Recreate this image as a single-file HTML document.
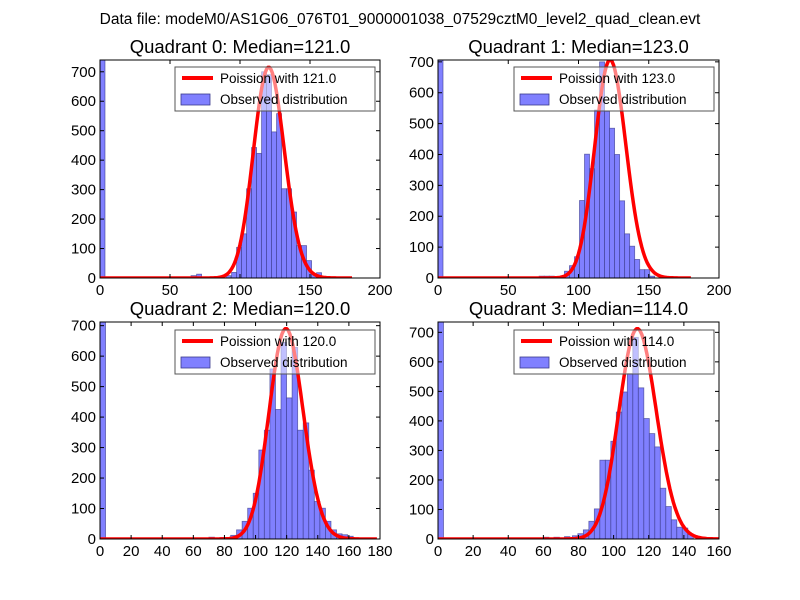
<!DOCTYPE html>
<html><head><meta charset="utf-8"><style>
html,body{margin:0;padding:0;background:#fff;}
svg{display:block;font-family:"Liberation Sans","DejaVu Sans",sans-serif;}
</style></head><body>
<svg id="fig" width="800" height="600" viewBox="0 0 800 600">
<rect x="0" y="0" width="800" height="600" fill="#fff"/>
<text x="400" y="24" font-size="15.5" text-anchor="middle">Data file: modeM0/AS1G06_076T01_9000001038_07529cztM0_level2_quad_clean.evt</text>
</svg>
<script>
// ---- data ----
const titles = ["Quadrant 0: Median=121.0","Quadrant 1: Median=123.0","Quadrant 2: Median=120.0","Quadrant 3: Median=114.0"];
const medians = [121, 123, 120, 114];
const curvePeaks = [715, 706, 690, 712];
const curveMax = [180, 180, 178, 160];
const xMaxes = [200, 200, 180, 160];
const yMaxes = [740, 706, 712, 735];
const xTicks0 = [0,50,100,150,200];
const xTicks2 = [0,20,40,60,80,100,120,140,160,180];
const xTicks3 = [0,20,40,60,80,100,120,140,160];
const yTicks = [0,100,200,300,400,500,600,700];
const binWidths = [3.57, 3.57, 3.57, 3.13];
// zero bin counts
const zeroCounts = [740, 706, 712, 735];
// low tail bins: start values and counts
const q0SmallStarts = [65, 69, 90];
const q0SmallCounts = [8, 13, 8];
const q1SmallStarts = [72, 75.6, 79.2, 82.8];
const q1SmallCounts = [6, 6, 6, 4];
const q2SmallStarts = [70, 77, 84];
const q2SmallCounts = [6, 5, 12];
const q3SmallStarts = [60, 66, 72];
const q3SmallCounts = [6, 6, 8];
// main peak bins
const peakStarts = [94, 90, 87.8, 76.5];
const q0Counts = [19,104,150,303,443,423,700,690,496,558,303,303,224,110,110,59,14,18];
const q1Counts = [22,40,69,251,401,354,544,700,540,485,400,250,143,103,60,27,27,6,0,6];
const q2Counts = [30,58,101,150,292,357,558,425,645,463,629,357,381,226,123,101,58,30,17,14,9];
const q3Counts = [11,18,31,60,102,267,267,331,430,498,560,683,512,408,357,312,172,110,65,40,37,15];
const allCounts = [q0Counts,q1Counts,q2Counts,q3Counts];
const allSmallStarts = [q0SmallStarts,q1SmallStarts,q2SmallStarts,q3SmallStarts];
const allSmallCounts = [q0SmallCounts,q1SmallCounts,q2SmallCounts,q3SmallCounts];
const allXTicks = [xTicks0, xTicks0, xTicks2, xTicks3];

const NS = "http://www.w3.org/2000/svg";
const svg = document.getElementById('fig');
function mk(tag, attrs, parent){ const e=document.createElementNS(NS,tag); for(const k in attrs) e.setAttribute(k,attrs[k]); (parent||svg).appendChild(e); return e; }
const boxes = [[100,60,380,278],[438,60,719,278],[100,322,380,539],[438,322,719,539]];

function lgamma(n){ let s=0; for(let i=2;i<=n;i++) s+=Math.log(i); return s; }

for(let p=0;p<4;p++){
  const [L,T,R,B] = boxes[p];
  const g = mk('g',{});
  
  
  const xs = v => L + v/xMaxes[p]*(R-L);
  const ys = v => B - v/yMaxes[p]*(B-T);
  const clip = mk('clipPath',{id:'c'+p},g);
  mk('rect',{x:L,y:T,width:R-L,height:B-T},clip);
  const plot = mk('g',{'clip-path':'url(#c'+p+')'},g);
  const w = binWidths[p];
  function bar(x0,c){
    const r = mk('rect',{x:xs(x0),y:ys(c),width:xs(x0+w)-xs(x0),height:ys(0)-ys(c),fill:'#8080ff',stroke:'#3a3a8c','stroke-width':0.8,'stroke-opacity':0.7},plot);
    
    
  }
  bar(0, zeroCounts[p]);
  allSmallStarts[p].forEach((s,i)=>bar(s, allSmallCounts[p][i]));
  allCounts[p].forEach((c,i)=>{ if(c>0) bar(peakStarts[p]+i*w, c); });
  // poisson curve
  const lam = medians[p];
  const pk = Math.exp((lam)*Math.log(lam)-lam-lgamma(lam));
  let d='';
  for(let k=0;k<=curveMax[p];k++){
    const v = Math.exp(k*Math.log(lam||1)-lam-lgamma(k))/pk*curvePeaks[p];
    d += (k?'L':'M')+xs(k).toFixed(1)+','+ys(v).toFixed(1);
  }
  const cv = mk('path',{d:d,fill:'none',stroke:'#ff0000','stroke-width':3.5,'stroke-linejoin':'round'},plot);
  
  
  // legend
  const lx = R-205, ly = T + (p<2?7:8);
  const lg = mk('g',{},g);
  
  
  mk('rect',{x:lx,y:ly,width:200,height:44,fill:'#fff','fill-opacity':0.5,stroke:'#555','stroke-width':1},lg);
  mk('line',{x1:lx+7,y1:ly+11,x2:lx+38,y2:ly+11,stroke:'#ff0000','stroke-width':4},lg);
  const t1 = mk('text',{x:lx+45,y:ly+16,'font-size':13.5},lg); t1.textContent='Poission with '+medians[p].toFixed(1);
   
  mk('rect',{x:lx+6,y:ly+27,width:29,height:11,fill:'#8080ff',stroke:'#3a3a8c','stroke-width':0.8},lg);
  const t2 = mk('text',{x:lx+45,y:ly+37,'font-size':13.5},lg); t2.textContent='Observed distribution';
   
  // frame
  mk('rect',{x:L,y:T,width:R-L,height:B-T,fill:'none',stroke:'#000','stroke-width':1},g);
  // ticks
  allXTicks[p].forEach(t=>{
    const x=xs(t);
    mk('line',{x1:x,y1:B,x2:x,y2:B-4,stroke:'#000'},g);
    mk('line',{x1:x,y1:T,x2:x,y2:T+4,stroke:'#000'},g);
    const tx = mk('text',{x:x,y:B+17,'font-size':15,'text-anchor':'middle'},g); tx.textContent=t;
     
  });
  yTicks.forEach(t=>{
    const y=ys(t);
    mk('line',{x1:L,y1:y,x2:L+4,y2:y,stroke:'#000'},g);
    mk('line',{x1:R,y1:y,x2:R-4,y2:y,stroke:'#000'},g);
    const ty = mk('text',{x:L-4,y:y+5,'font-size':15,'text-anchor':'end'},g); ty.textContent=t;
     
  });
  const tt = mk('text',{x:(L+R)/2,y:T-7,'font-size':18.5,'text-anchor':'middle'},g); tt.textContent=titles[p];
   
}
</script>
</body></html>
